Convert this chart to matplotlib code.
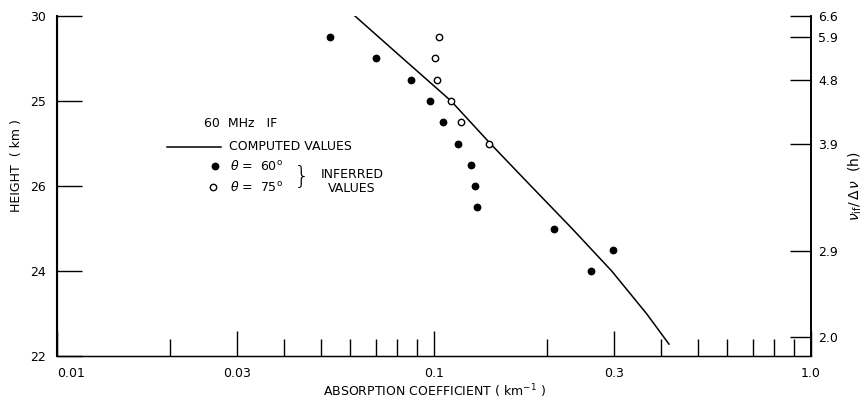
import numpy as np
import matplotlib
matplotlib.use("Agg")
import matplotlib.pyplot as plt

# inferred values, theta = 60 deg (filled dots)
abs60 = [0.0530, 0.0702, 0.0871, 0.0976, 0.1059, 0.1160, 0.1254, 0.1285, 0.1303, 0.2085, 0.2979, 0.2614]
h60 = [29.5, 29.0, 28.5, 28.0, 27.5, 27.0, 26.5, 26.0, 25.5, 25.0, 24.5, 24.0]
# inferred values, theta = 75 deg (open dots)
abs75 = [0.1033, 0.1004, 0.1020, 0.1109, 0.1180, 0.1402]
h75 = [29.5, 29.0, 28.5, 28.0, 27.5, 27.0]
# computed curve
abs_calc = [0.0617, 0.0827, 0.1110, 0.1410, 0.1808, 0.2323, 0.2960, 0.3660, 0.4200]
h_calc = [30.0, 29.0, 28.0, 27.0, 26.0, 25.0, 24.0, 23.0, 22.28]

# axis ticks
xmajor = [0.01, 0.03, 0.1, 0.3, 1.0]
xmajor_lab = ["0.01", "0.03", "0.1", "0.3", "1.0"]
xminor = [0.02, 0.04, 0.05, 0.06, 0.07, 0.08, 0.09, 0.2, 0.4, 0.5, 0.6, 0.7, 0.8, 0.9]
yticks = [22, 24, 26, 28, 30]
ylabs = ["22", "24", "26", "25", "30"]   # as printed on the figure
rticks = [30.0, 29.5, 28.5, 27.0, 24.46, 22.45]
rlabs = ["6.6", "5.9", "4.8", "3.9", "2.9", "2.0"]

plt.rcParams["font.family"] = "DejaVu Sans"
fig = plt.figure(figsize=(8.66, 4.04), dpi=100)
ax = fig.add_axes([0.0658, 0.1188, 0.8707, 0.8416])

ax.plot(abs_calc, h_calc, color="black", lw=1.1)
ax.plot(abs60, h60, "o", color="black", ms=4.6, ls="none")
ax.plot(abs75, h75, "o", mfc="white", mec="black", mew=1.0, ms=4.6, ls="none")

ax.set_xscale("log")
ax.set_xlim(0.01, 1.0)
ax.set_ylim(22, 30)

ax.set_xticks(xmajor)
ax.set_xticklabels(xmajor_lab)
ax.set_xticks(xminor, minor=True)
ax.xaxis.set_minor_formatter(matplotlib.ticker.NullFormatter())
ax.tick_params(axis="x", which="major", direction="in", length=18, width=1, pad=8, labelsize=9)
ax.tick_params(axis="x", which="minor", direction="in", length=12, width=1)
ax.get_xticklabels()[0].set_ha("left")

ax.set_yticks(yticks)
ax.set_yticklabels(ylabs)
ax.tick_params(axis="y", direction="in", length=18, width=1, pad=8, labelsize=9)

ax.spines["top"].set_visible(False)
ax.spines["left"].set_linewidth(1.5)
ax.spines["bottom"].set_linewidth(1.0)
ax.spines["right"].set_linewidth(1.2)

ax2 = ax.twinx()
ax2.set_ylim(22, 30)
ax2.set_yticks(rticks)
ax2.set_yticklabels(rlabs)
ax2.tick_params(axis="y", direction="in", length=15, width=1, pad=5, labelsize=9)
ax2.spines["top"].set_visible(False)
ax2.spines["right"].set_linewidth(1.2)

ax.set_xlabel("ABSORPTION COEFFICIENT ( km$^{-1}$ )", fontsize=9, labelpad=2)
ax.set_ylabel("HEIGHT  ( km )", fontsize=9)
ax.yaxis.set_label_coords(-0.045, 0.56)
fig.text(0.988, 0.54, r"$\nu_{\rm if}/\,\Delta\,\nu$  (h)", fontsize=10,
         rotation=90, ha="center", va="center")

# legend drawn by hand
t = ax.transAxes
ax.text(0.195, 0.685, "60  MHz   IF", transform=t, fontsize=9, va="center")
ax.plot([0.146, 0.2175], [0.615, 0.615], transform=t, color="black", lw=1.1)
ax.text(0.228, 0.615, "COMPUTED VALUES", transform=t, fontsize=9, va="center")
ax.plot([0.2095], [0.559], "o", transform=t, color="black", ms=4.6)
ax.text(0.229, 0.559, r"$\theta$ =  60$^{\rm o}$", transform=t, fontsize=9, va="center")
ax.plot([0.207], [0.497], "o", transform=t, mfc="white", mec="black", mew=1.0, ms=4.6)
ax.text(0.229, 0.497, r"$\theta$ =  75$^{\rm o}$", transform=t, fontsize=9, va="center")
ax.text(0.325, 0.526, "}", transform=t, fontsize=18, va="center", ha="center", fontweight="light")
ax.text(0.391, 0.535, "INFERRED", transform=t, fontsize=9, va="center", ha="center")
ax.text(0.391, 0.494, "VALUES", transform=t, fontsize=9, va="center", ha="center")

fig.savefig("out.png", dpi=100)
